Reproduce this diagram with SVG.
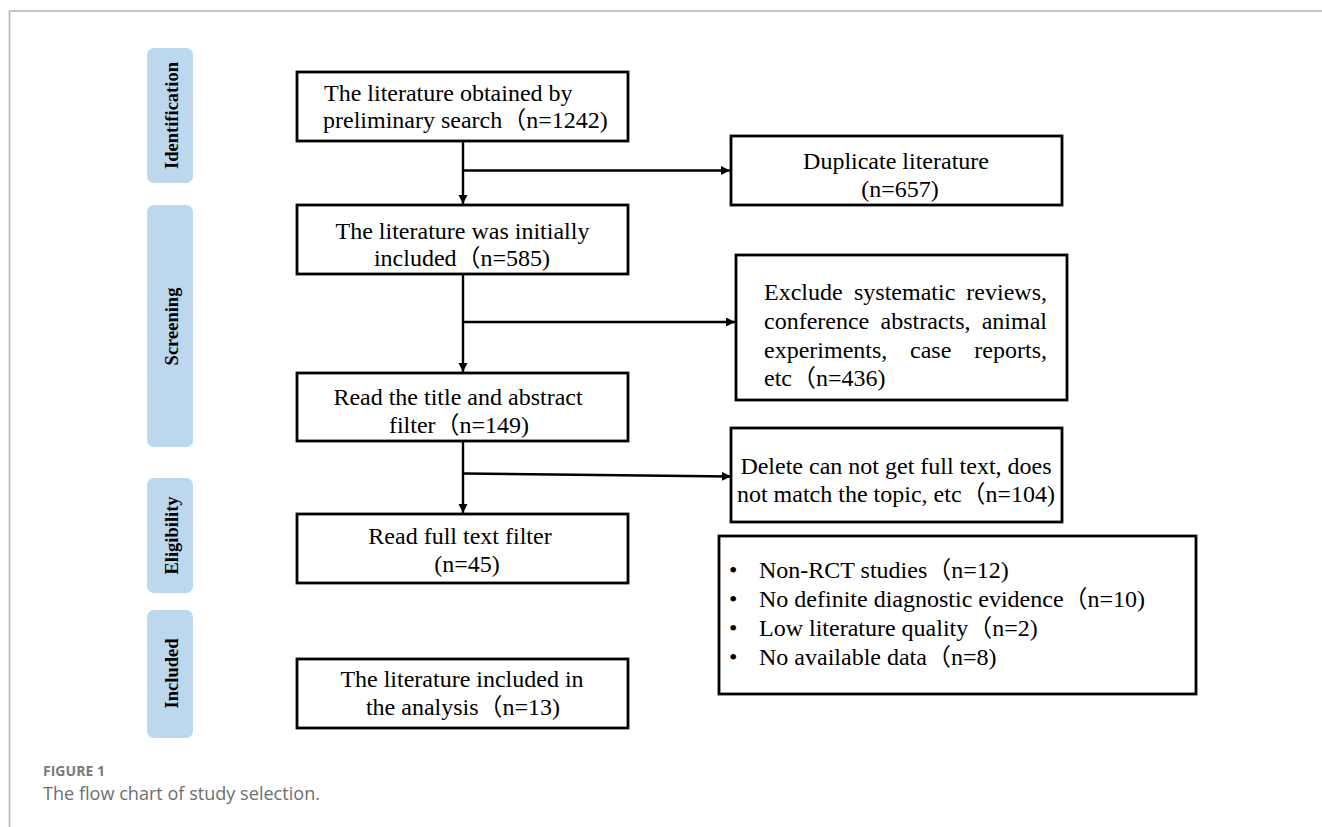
<svg xmlns="http://www.w3.org/2000/svg" width="1322" height="827" viewBox="0 0 1322 827">
<style>
.bg{fill:#ffffff}
.frame{fill:none;stroke:#b4b4b4;stroke-width:1.6}
.bar{fill:#bdd7ee}
.lab{font-family:"Liberation Serif","Times New Roman",serif;font-weight:bold;font-size:18.5px;fill:#000;text-anchor:middle}
.box{fill:#fff;stroke:#000;stroke-width:2.8}
.t{font-family:"Liberation Serif","Times New Roman","Noto Sans CJK SC",serif;font-size:24px;fill:#000}
.m{text-anchor:middle}
.e{text-anchor:end}
.conn{fill:none;stroke:#000;stroke-width:2.4}
.cap1{font-family:"Open Sans","Liberation Sans",sans-serif;font-weight:bold;font-size:14px;fill:#7a7a7a}
.cap2{font-family:"Open Sans","Liberation Sans",sans-serif;font-size:18px;fill:#6e6e6e}
</style>
<defs>
<marker id="ah" markerUnits="userSpaceOnUse" markerWidth="10" markerHeight="10" refX="9" refY="4.5" orient="auto">
<path d="M0,0 L9,4.5 L0,9 z" fill="#000"/>
</marker>
</defs>
<rect class="bg" x="0" y="0" width="1322" height="827"/>
<path class="frame" d="M9.5,827 L9.5,11 L1322,11"/>

<g id="stage-identification">
<rect class="bar" x="147" y="48" width="46" height="135" rx="7"/>
<text class="lab" transform="translate(178,115.5) rotate(-90)">Identification</text>
</g>
<g id="stage-screening">
<rect class="bar" x="147" y="205" width="46" height="242" rx="7"/>
<text class="lab" transform="translate(178,326.5) rotate(-90)">Screening</text>
</g>
<g id="stage-eligibility">
<rect class="bar" x="147" y="478" width="46" height="115" rx="7"/>
<text class="lab" transform="translate(178,535.5) rotate(-90)">Eligibility</text>
</g>
<g id="stage-included">
<rect class="bar" x="147" y="610" width="46" height="128" rx="7"/>
<text class="lab" transform="translate(178,673.5) rotate(-90)">Included</text>
</g>

<g id="connectors">
<line class="conn" x1="463" y1="141" x2="463" y2="204" marker-end="url(#ah)"/>
<line class="conn" x1="463" y1="170.5" x2="730" y2="170.5" marker-end="url(#ah)"/>
<line class="conn" x1="463" y1="275" x2="463" y2="372" marker-end="url(#ah)"/>
<line class="conn" x1="463" y1="322" x2="735" y2="322" marker-end="url(#ah)"/>
<line class="conn" x1="463" y1="442" x2="463" y2="513" marker-end="url(#ah)"/>
<line class="conn" x1="463" y1="473.5" x2="731" y2="476.5" marker-end="url(#ah)"/>
</g>

<g id="box-search">
<rect class="box" x="297" y="72" width="331" height="69"/>
<text class="t" x="324" y="100.5">The literature obtained by</text>
<text class="t" x="323" y="127.5">preliminary search（n=1242)</text>
</g>
<g id="box-duplicate">
<rect class="box" x="731" y="136" width="331" height="69"/>
<text class="t m" x="896" y="169">Duplicate literature</text>
<text class="t m" x="900" y="197">(n=657)</text>
</g>
<g id="box-initial">
<rect class="box" x="297" y="205" width="331" height="69"/>
<text class="t m" x="462.5" y="238.5">The literature was initially</text>
<text class="t m" x="462" y="265.5">included（n=585)</text>
</g>
<g id="box-exclude">
<rect class="box" x="736" y="255" width="331" height="145"/>
<text class="t" x="764" y="300">Exclude</text>
<text class="t" x="854" y="300">systematic</text>
<text class="t e" x="1047" y="300">reviews,</text>
<text class="t" x="764" y="329">conference</text>
<text class="t" x="880.5" y="329">abstracts,</text>
<text class="t e" x="1047" y="329">animal</text>
<text class="t" x="764" y="357.5">experiments,</text>
<text class="t" x="910" y="357.5">case</text>
<text class="t e" x="1047" y="357.5">reports,</text>
<text class="t" x="764" y="386">etc（n=436)</text>
</g>
<g id="box-title">
<rect class="box" x="297" y="373" width="331" height="68"/>
<text class="t m" x="458" y="404.5">Read the title and abstract</text>
<text class="t m" x="459" y="432.5">filter（n=149)</text>
</g>
<g id="box-delete">
<rect class="box" x="731" y="428" width="331" height="94"/>
<text class="t m" x="896" y="474">Delete can not get full text, does</text>
<text class="t m" x="896" y="501.5">not match the topic, etc（n=104)</text>
</g>
<g id="box-fulltext">
<rect class="box" x="297" y="514" width="331" height="69"/>
<text class="t m" x="460" y="543.5">Read full text filter</text>
<text class="t m" x="467" y="571.5">(n=45)</text>
</g>
<g id="box-reasons">
<rect class="box" x="719" y="536" width="477" height="158"/>
<text class="t" x="729" y="577.5">•</text>
<text class="t" x="759" y="577.5">Non-RCT studies（n=12)</text>
<text class="t" x="729" y="606.5">•</text>
<text class="t" x="759" y="606.5">No definite diagnostic evidence（n=10)</text>
<text class="t" x="729" y="636">•</text>
<text class="t" x="759" y="636">Low literature quality（n=2)</text>
<text class="t" x="729" y="665">•</text>
<text class="t" x="759" y="665">No available data（n=8)</text>
</g>
<g id="box-included">
<rect class="box" x="297" y="659" width="331" height="69"/>
<text class="t m" x="462" y="687">The literature included in</text>
<text class="t m" x="463" y="715">the analysis（n=13)</text>
</g>

<g id="caption">
<text class="cap1" x="43" y="776" textLength="62" lengthAdjust="spacingAndGlyphs">FIGURE 1</text>
<text class="cap2" x="43" y="800" textLength="277" lengthAdjust="spacingAndGlyphs">The flow chart of study selection.</text>
</g>
</svg>
